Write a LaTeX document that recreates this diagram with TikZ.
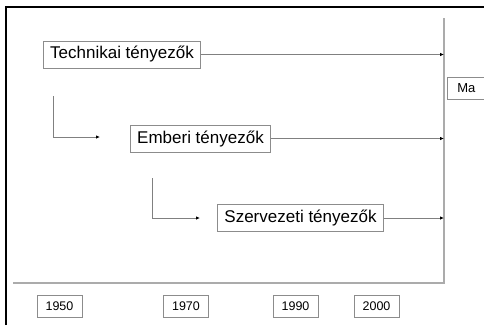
\documentclass[tikz,border=0pt]{standalone}
\usepackage{fontspec}
\setmainfont{Liberation Sans}
\usetikzlibrary{arrows.meta}
\usetikzlibrary{positioning}
\definecolor{vonal}{HTML}{ABABAB}
\definecolor{keret}{HTML}{8C8C8C}

\tikzset{
  tenyezo/.style={draw=keret, line width=0.8pt, rectangle, inner xsep=7pt,
    minimum height=27pt, font=\fontsize{17}{20}\selectfont},
  evszam/.style={draw=keret, line width=0.8pt, rectangle, inner xsep=8.5pt,
    minimum height=22pt, font=\fontsize{12.5}{15}\selectfont},
  nyil/.style={draw=gray, line width=0.8pt, -{Latex[black,length=4pt,width=3.5pt]}},
}

\begin{document}
\begin{tikzpicture}[x=1pt,y=-1pt]
       \useasboundingbox (0,0) rectangle (484,325);
       \draw[line width=1.6pt] (6,325) -- (6,7) -- (484,7);

       % time axes
       \coordinate (teteje) at (444,18);
       \coordinate (sarok)  at (444,283);
       \coordinate (kezdet) at (13,283);
       \draw[vonal, line width=1.3pt] (teteje) -- (sarok) -- (kezdet);

       \node[tenyezo] (tech) at (122,54.5)  {Technikai tényezők};
       \node[tenyezo] (ember) at (200.5,138.5) {Emberi tényezők};
       \node[tenyezo] (szerv) at (300.5,218) {Szervezeti tényezők};
       \node[evszam, anchor=west, inner xsep=10pt, font=\fontsize{13}{15}\selectfont] (ma) at (447,88) {Ma};

       \node[evszam] (ev1950) at (59.5,306)  {1950};
       \node[evszam] (ev1970) at (186,306)   {1970};
       \node[evszam] (ev1990) at (295.5,306) {1990};
       \node[evszam] (ev2000) at (376.5,306) {2000};

       % arrows to now
       \draw[nyil] (tech.east) -- (tech.east -| teteje);
       \draw[nyil] (ember.east) -- (ember.east -| teteje);
       \draw[nyil] (szerv.east) -- (szerv.east -| teteje);

       % step connectors
       \coordinate (lep1) at (53,96);
       \coordinate (lep1v) at (100,137);
       \coordinate (lep2) at (152,178);
       \coordinate (lep2v) at (200,218);
       \draw[nyil] (lep1) |- (lep1v);
       \draw[nyil] (lep2) |- (lep2v);
\end{tikzpicture}
\end{document}
